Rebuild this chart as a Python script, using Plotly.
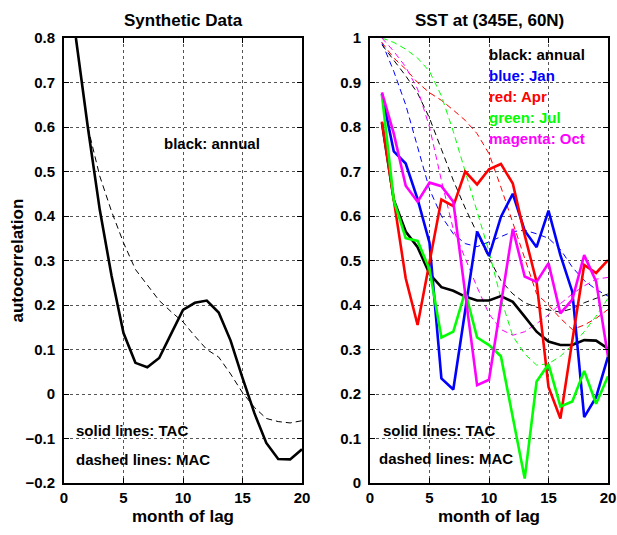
import plotly.graph_objects as go
from plotly.subplots import make_subplots

lags = list(range(1, 21))

# Synthetic data (left panel)
syn_tac = [0.80, 0.60, 0.415, 0.265, 0.137, 0.070, 0.060, 0.081, 0.135, 0.189,
           0.205, 0.210, 0.183, 0.120, 0.036, -0.043, -0.110, -0.146, -0.147, -0.124]
syn_mac = [0.80, 0.60, 0.49, 0.41, 0.34, 0.28, 0.245, 0.21, 0.185, 0.162,
           0.13, 0.10, 0.083, 0.045, 0.003, -0.03, -0.055, -0.062, -0.065, -0.06]

# SST at (345E, 60N) (right panel) - TAC (solid)
tac_annual = [0.81, 0.636, 0.565, 0.53, 0.47, 0.44, 0.432, 0.419, 0.41, 0.41,
              0.42, 0.407, 0.374, 0.34, 0.318, 0.31, 0.31, 0.321, 0.32, 0.302]
tac_jan = [0.875, 0.745, 0.718, 0.638, 0.54, 0.235, 0.21, 0.39, 0.565, 0.51,
           0.598, 0.65, 0.567, 0.53, 0.612, 0.512, 0.43, 0.148, 0.193, 0.284]
tac_apr = [0.812, 0.635, 0.46, 0.355, 0.50, 0.637, 0.622, 0.70, 0.671, 0.705,
           0.717, 0.673, 0.557, 0.452, 0.216, 0.145, 0.32, 0.49, 0.472, 0.501]
tac_jul = [0.873, 0.635, 0.55, 0.544, 0.48, 0.327, 0.34, 0.43, 0.327, 0.31,
           0.285, 0.147, 0.01, 0.228, 0.267, 0.172, 0.183, 0.252, 0.178, 0.24]
tac_oct = [0.878, 0.785, 0.668, 0.632, 0.675, 0.667, 0.632, 0.43, 0.22, 0.232,
           0.40, 0.571, 0.464, 0.452, 0.494, 0.381, 0.412, 0.512, 0.453, 0.284]

# MAC (dashed)
mac_annual = [0.985, 0.95, 0.915, 0.876, 0.82, 0.75, 0.68, 0.618, 0.56, 0.505,
              0.455, 0.425, 0.405, 0.395, 0.389, 0.384, 0.392, 0.405, 0.415, 0.425]
mac_jan = [0.99, 0.925, 0.85, 0.757, 0.66, 0.60, 0.56, 0.538, 0.531, 0.542,
           0.553, 0.565, 0.568, 0.56, 0.55, 0.525, 0.485, 0.455, 0.435, 0.42]
mac_apr = [0.99, 0.955, 0.93, 0.90, 0.877, 0.86, 0.838, 0.815, 0.785, 0.74,
           0.665, 0.585, 0.505, 0.425, 0.40, 0.37, 0.345, 0.355, 0.37, 0.39]
mac_jul = [1.0, 0.99, 0.975, 0.955, 0.925, 0.87, 0.79, 0.70, 0.61, 0.52,
           0.415, 0.33, 0.29, 0.265, 0.268, 0.285, 0.31, 0.34, 0.375, 0.415]
mac_oct = [1.0, 0.97, 0.935, 0.885, 0.80, 0.68, 0.57, 0.505, 0.44, 0.38,
           0.345, 0.332, 0.34, 0.358, 0.378, 0.403, 0.425, 0.443, 0.458, 0.462]

left_yticks = [-0.2, -0.1, 0, 0.1, 0.2, 0.3, 0.4, 0.5, 0.6, 0.7, 0.8]
right_yticks = [0, 0.1, 0.2, 0.3, 0.4, 0.5, 0.6, 0.7, 0.8, 0.9, 1]
xticks = [0, 5, 10, 15, 20]

FONT = "Liberation Sans, Arial, Helvetica, sans-serif"

fig = make_subplots(rows=1, cols=2, horizontal_spacing=0.125,
                    subplot_titles=("<b>Synthetic Data</b>", "<b>SST at (345E, 60N)</b>"))

fig.add_trace(go.Scatter(x=lags, y=syn_mac, mode="lines",
                         line=dict(color="black", width=1, dash="6px,4px")), 1, 1)
fig.add_trace(go.Scatter(x=lags, y=syn_tac, mode="lines",
                         line=dict(color="black", width=2.6)), 1, 1)

series = [
    (mac_annual, tac_annual, "#000000"),
    (mac_jan, tac_jan, "#0000FF"),
    (mac_apr, tac_apr, "#FF0000"),
    (mac_jul, tac_jul, "#00FF00"),
    (mac_oct, tac_oct, "#FF00FF"),
]
for mac, tac, col in series:
    fig.add_trace(go.Scatter(x=lags, y=mac, mode="lines",
                             line=dict(color=col, width=1, dash="6px,4px")), 1, 2)
for mac, tac, col in series:
    fig.add_trace(go.Scatter(x=lags, y=tac, mode="lines",
                             line=dict(color=col, width=2.6)), 1, 2)

axis_common = dict(showline=True, linecolor="black", linewidth=2, mirror="ticks",
                   ticks="inside", ticklen=5, tickwidth=1, tickcolor="black",
                   showgrid=True, gridcolor="#555555", griddash="dot", gridwidth=1,
                   zeroline=False, tickfont=dict(family=FONT, size=15, color="black"))

fig.update_xaxes(range=[0, 20], tickvals=xticks,
                 ticktext=["<b>%d</b>" % v for v in xticks], **axis_common)
for c in (1, 2):
    fig.update_xaxes(title=dict(text="<b>month of lag</b>",
                                font=dict(family=FONT, size=17, color="black"),
                                standoff=5), row=1, col=c)
fig.update_yaxes(range=[-0.2, 0.8], tickvals=left_yticks,
                 ticktext=[("<b>%g</b>" % v).replace("-", "−") for v in left_yticks],
                 ticklabelstandoff=4,
                 row=1, col=1, **axis_common)
fig.update_yaxes(range=[0, 1], tickvals=right_yticks,
                 ticktext=["<b>%g</b>" % v for v in right_yticks],
                 ticklabelstandoff=4,
                 row=1, col=2, **axis_common)

for ann in fig.layout.annotations:
    ann.font = dict(family=FONT, size=17, color="black")
    ann.yshift = 6

# y-axis title of the left panel
fig.add_annotation(text="<b>autocorrelation</b>", xref="paper", yref="y domain",
                   x=-0.0846, y=0.5, textangle=-90, xanchor="center", yanchor="middle",
                   showarrow=False, font=dict(family=FONT, size=17, color="black"))

def note(text, xr, yr, xd, yd, color="black"):
    fig.add_annotation(text="<b>%s</b>" % text, xref=xr, yref=yr, x=xd, y=yd,
                       xanchor="left", yanchor="middle", showarrow=False,
                       font=dict(family=FONT, size=15, color=color))

note("black: annual", "x domain", "y domain", 0.41, 0.764)
note("solid lines: TAC", "x domain", "y domain", 0.04, 0.119)
note("dashed lines: MAC", "x domain", "y domain", 0.04, 0.052)

note("black: annual", "x2 domain", "y2 domain", 0.49, 0.962)
note("blue: Jan", "x2 domain", "y2 domain", 0.49, 0.915, "#0000FF")
note("red: Apr", "x2 domain", "y2 domain", 0.49, 0.868, "#FF0000")
note("green: Jul", "x2 domain", "y2 domain", 0.49, 0.821, "#00FF00")
note("magenta: Oct", "x2 domain", "y2 domain", 0.49, 0.774, "#FF00FF")
note("solid lines: TAC", "x2 domain", "y2 domain", 0.045, 0.119)
note("dashed lines: MAC", "x2 domain", "y2 domain", 0.03, 0.054)

fig.update_layout(width=617, height=535, showlegend=False,
                  margin=dict(l=64, r=9, t=38, b=52, autoexpand=False),
                  paper_bgcolor="white", plot_bgcolor="white",
                  font=dict(family=FONT, color="black"))

fig.write_html("out.html", config={"displayModeBar": False},
               post_script="document.body.style.margin='0px';document.body.style.overflow='hidden';")
